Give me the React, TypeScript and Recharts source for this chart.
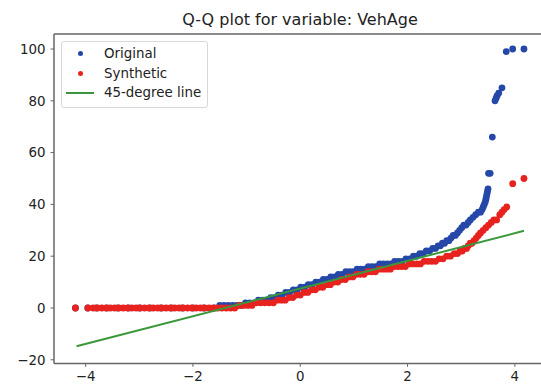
import React from 'react';
import { ScatterChart, Scatter, XAxis, YAxis, ReferenceLine } from 'recharts';

// theoretical quantile vs ordered sample value
const originalPoints: [number, number][] = [
  [-4.19, 0], [-3.96, 0], [-3.8, 0], [-3.6, 0], [-3.4, 0], [-3.2, 0], [-3.0, 0], [-2.8, 0],
  [-2.6, 0], [-2.4, 0], [-2.2, 0], [-2.0, 0], [-1.8, 0], [-1.6, 0],
  [-1.5, 1], [-1.42, 1], [-1.34, 1], [-1.26, 1], [-1.18, 1], [-1.1, 1],
  [-1.02, 2], [-0.94, 2], [-0.86, 2],
  [-0.78, 3], [-0.7, 3], [-0.62, 3],
  [-0.55, 4], [-0.48, 4],
  [-0.41, 5], [-0.34, 5],
  [-0.27, 6], [-0.2, 6],
  [-0.13, 7], [-0.06, 7],
  [0.01, 8], [0.08, 8],
  [0.15, 9], [0.22, 9],
  [0.29, 10], [0.36, 10],
  [0.43, 11], [0.5, 11],
  [0.57, 12], [0.64, 12],
  [0.71, 13], [0.78, 13],
  [0.85, 14], [0.92, 14], [0.99, 14],
  [1.06, 15], [1.13, 15], [1.2, 15],
  [1.27, 16], [1.34, 16], [1.41, 16],
  [1.48, 17], [1.55, 17], [1.62, 17], [1.69, 17],
  [1.76, 18], [1.83, 18], [1.9, 18],
  [1.97, 19], [2.04, 19],
  [2.11, 20], [2.17, 20],
  [2.23, 21], [2.29, 21],
  [2.35, 22], [2.41, 22],
  [2.47, 23], [2.52, 23],
  [2.57, 24], [2.61, 24],
  [2.65, 25], [2.69, 25],
  [2.73, 26], [2.77, 26],
  [2.81, 27],
  [2.85, 28], [2.89, 28],
  [2.93, 29], [2.97, 30], [3.01, 31],
  [3.05, 32], [3.09, 32],
  [3.13, 33], [3.17, 34], [3.22, 35], [3.27, 36],
  [3.32, 37], [3.36, 37],
  [3.39, 38], [3.41, 39], [3.43, 40], [3.45, 41], [3.46, 42], [3.47, 43], [3.48, 44],
  [3.49, 45], [3.5, 46],
  [3.51, 52], [3.54, 52], [3.58, 66],
  [3.63, 80], [3.65, 81], [3.67, 82], [3.7, 83], [3.76, 85],
  [3.84, 99], [3.96, 100], [4.17, 100],
];

const syntheticPoints: [number, number][] = [
  [-4.19, 0], [-3.96, 0],
  [-3.86, 0], [-3.78, 0], [-3.7, 0], [-3.62, 0], [-3.54, 0], [-3.46, 0], [-3.38, 0], [-3.3, 0],
  [-3.22, 0], [-3.14, 0], [-3.06, 0], [-2.98, 0], [-2.9, 0], [-2.82, 0], [-2.74, 0], [-2.66, 0],
  [-2.58, 0], [-2.5, 0], [-2.42, 0], [-2.34, 0], [-2.26, 0], [-2.18, 0], [-2.1, 0], [-2.02, 0],
  [-1.94, 0], [-1.86, 0], [-1.78, 0], [-1.7, 0], [-1.62, 0], [-1.54, 0], [-1.46, 0], [-1.38, 0],
  [-1.3, 0], [-1.22, 0],
  [-1.14, 1], [-1.06, 1], [-0.98, 1], [-0.9, 1],
  [-0.82, 2], [-0.74, 2], [-0.66, 2], [-0.58, 2], [-0.5, 2],
  [-0.42, 3], [-0.35, 3], [-0.28, 3],
  [-0.21, 4], [-0.14, 4],
  [-0.07, 5], [0.0, 5],
  [0.07, 6], [0.14, 6],
  [0.21, 7], [0.28, 7],
  [0.35, 8], [0.42, 8],
  [0.49, 9], [0.56, 9],
  [0.63, 10], [0.7, 10],
  [0.77, 11], [0.84, 11],
  [0.91, 12], [0.98, 12],
  [1.05, 13], [1.12, 13], [1.19, 13],
  [1.26, 14], [1.33, 14], [1.4, 14],
  [1.47, 15], [1.54, 15], [1.61, 15], [1.68, 15],
  [1.75, 16], [1.82, 16], [1.89, 16], [1.96, 16],
  [2.03, 17], [2.1, 17], [2.17, 17], [2.24, 17],
  [2.31, 18], [2.38, 18], [2.45, 18], [2.52, 18],
  [2.59, 19], [2.66, 19],
  [2.73, 20], [2.8, 20],
  [2.87, 21], [2.93, 21],
  [2.98, 22], [3.02, 22],
  [3.06, 23], [3.1, 23],
  [3.13, 24],
  [3.17, 25], [3.2, 25],
  [3.24, 26], [3.28, 27], [3.32, 28], [3.36, 29], [3.41, 30], [3.46, 31], [3.51, 32],
  [3.56, 33], [3.61, 34], [3.66, 34], [3.72, 36], [3.76, 37], [3.8, 38], [3.85, 39],
  [3.96, 48], [4.17, 50],
];

const linePoints: [number, number][] = [
  [-4.17, -14.8],
  [4.17, 29.8],
];

const xTicks = [-4, -2, 0, 2, 4];
const yTicks = [-20, 0, 20, 40, 60, 80, 100];

const BLUE = '#2548a8';
const RED = '#e8221e';
const GREEN = '#3a983a';
const FONT = '"DejaVu Sans", sans-serif';

const toXY = (pts: [number, number][]) => pts.map(([x, y]) => ({ x, y }));
const fmt = (v: number) => String(v).replace('-', '\u2212');

const dot = (color: string) => (props: any) => (
  <circle cx={props.cx} cy={props.cy} r={3.4} fill={color} />
);

const tickStyle = { fill: '#222', fontSize: 13.4, fontFamily: FONT };

export default function App() {
  return (
    <div
      style={{
        position: 'absolute',
        left: 0,
        top: 0,
        width: 541,
        height: 387,
        overflow: 'hidden',
        background: '#fff',
        fontFamily: FONT,
      }}
    >
      <div
        style={{
          position: 'absolute',
          left: 0,
          width: 600,
          top: 10,
          textAlign: 'center',
          fontSize: 16,
          color: '#222',
          lineHeight: '20px',
        }}
      >
        Q-Q plot for variable: VehAge
      </div>

      <ScatterChart
        width={560}
        height={387}
        margin={{ top: 34, right: 13.5, bottom: 0, left: 0 }}
      >
        <XAxis
          type="number"
          dataKey="x"
          domain={[-4.59, 4.59]}
          ticks={xTicks}
          tickFormatter={fmt}
          height={23.6}
          tickSize={3.5}
          tickMargin={5}
          tick={tickStyle}
          stroke="#666"
          axisLine={{ stroke: '#666', strokeWidth: 1.5 }}
          tickLine={{ stroke: '#666' }}
          allowDataOverflow
        />
        <YAxis
          type="number"
          dataKey="y"
          domain={[-21.4, 105.8]}
          ticks={yTicks}
          tickFormatter={fmt}
          width={54}
          tickSize={3.5}
          tickMargin={5}
          tick={tickStyle}
          stroke="#666"
          axisLine={{ stroke: '#666', strokeWidth: 1.5 }}
          tickLine={{ stroke: '#666' }}
          allowDataOverflow
        />
        <ReferenceLine y={105.8} stroke="#666" strokeWidth={1.5} />
        <Scatter
          name="Original"
          data={toXY(originalPoints)}
          fill={BLUE}
          shape={dot(BLUE)}
          isAnimationActive={false}
        />
        <Scatter
          name="Synthetic"
          data={toXY(syntheticPoints)}
          fill={RED}
          shape={dot(RED)}
          isAnimationActive={false}
        />
        <Scatter
          name="45-degree line"
          data={toXY(linePoints)}
          line={{ stroke: GREEN, strokeWidth: 2 }}
          shape={() => <g />}
          isAnimationActive={false}
        />
      </ScatterChart>

      <div
        style={{
          position: 'absolute',
          left: 61,
          top: 41,
          width: 145,
          height: 65,
          border: '1px solid #d8d8d8',
          borderRadius: 3,
          background: 'rgba(255,255,255,0.85)',
          fontSize: 13.4,
          color: '#222',
        }}
      >
        {[
          { label: 'Original', color: BLUE, kind: 'dot' },
          { label: 'Synthetic', color: RED, kind: 'dot' },
          { label: '45-degree line', color: GREEN, kind: 'line' },
        ].map((item, i) => (
          <div
            key={item.label}
            style={{ position: 'absolute', left: 0, top: 2 + i * 19.5, height: 19, width: 145 }}
          >
            {item.kind === 'dot' ? (
              <span
                style={{
                  position: 'absolute',
                  left: 16,
                  top: 7,
                  width: 5,
                  height: 5,
                  borderRadius: '50%',
                  background: item.color,
                }}
              />
            ) : (
              <span
                style={{
                  position: 'absolute',
                  left: 4,
                  top: 8.5,
                  width: 28,
                  height: 2,
                  background: item.color,
                }}
              />
            )}
            <span style={{ position: 'absolute', left: 42, top: 1, lineHeight: '17px' }}>
              {item.label}
            </span>
          </div>
        ))}
      </div>
    </div>
  );
}
